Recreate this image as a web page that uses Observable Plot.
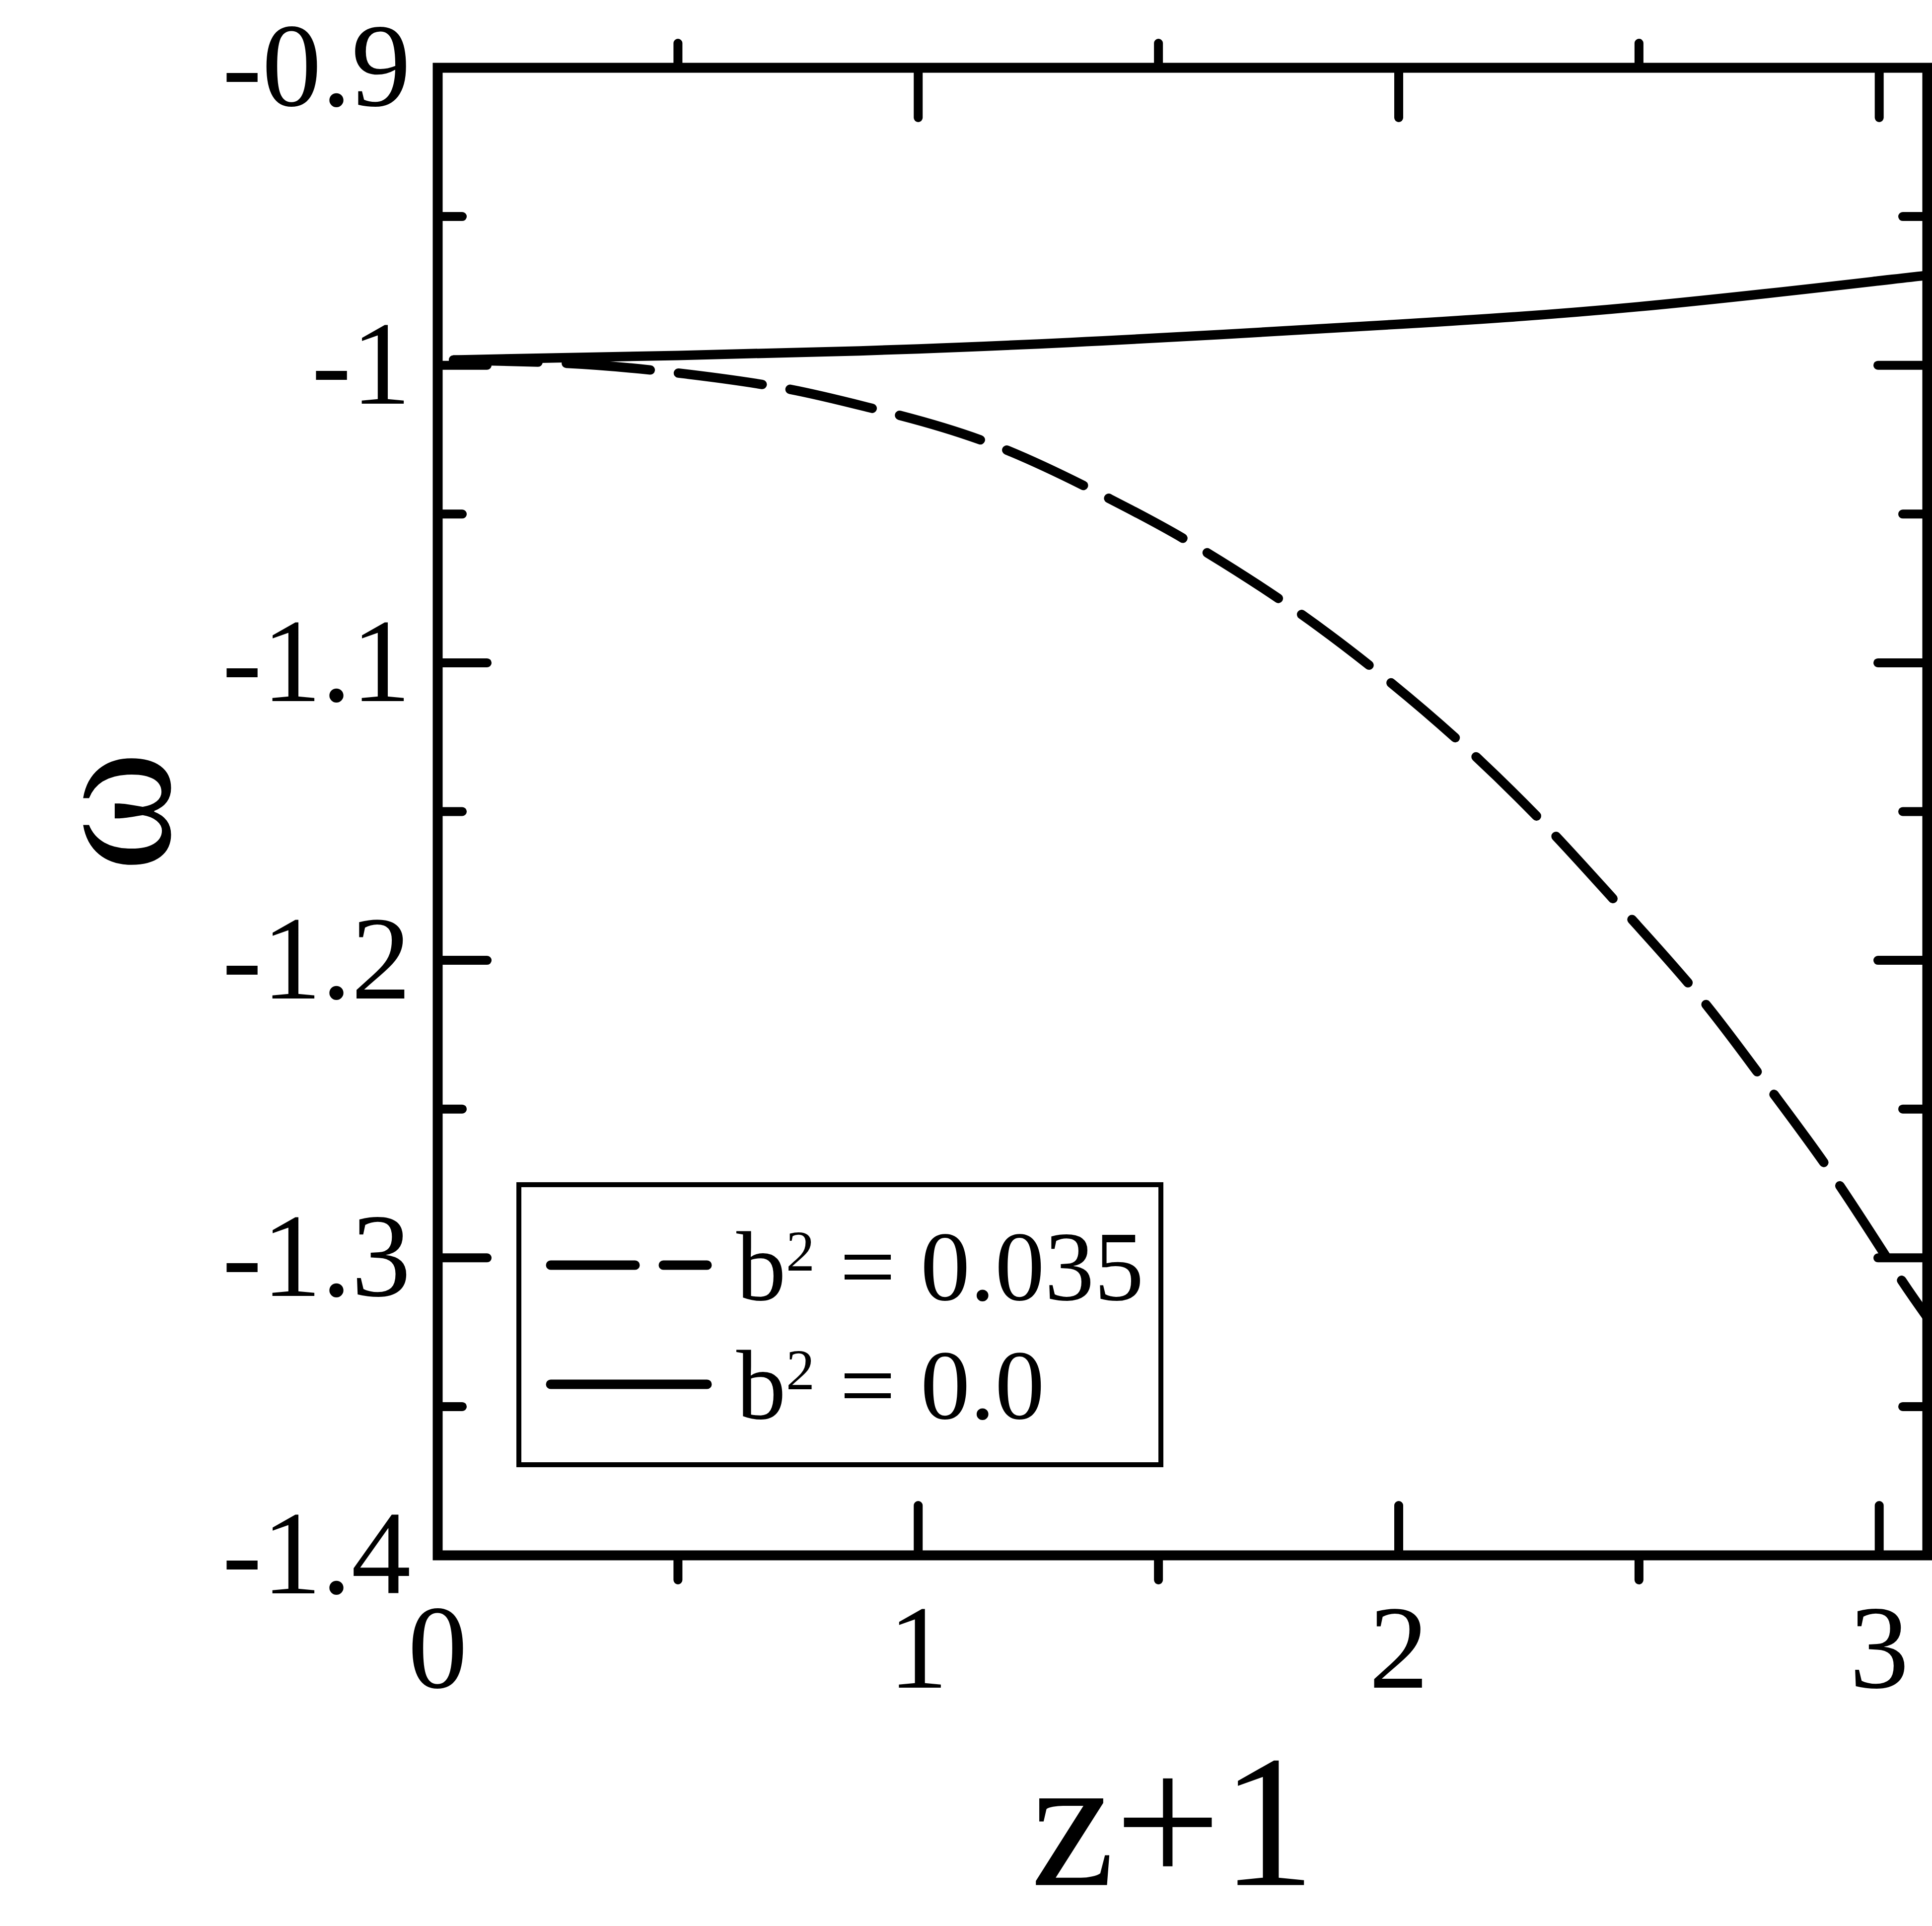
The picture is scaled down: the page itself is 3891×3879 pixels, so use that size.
<!DOCTYPE html>
<html>
<head>
<meta charset="utf-8">
<script src="https://cdn.jsdelivr.net/npm/d3@7"></script>
<script src="https://cdn.jsdelivr.net/npm/@observablehq/plot@0.6"></script>
<style>
  html, body { margin: 0; padding: 0; background: #fff; }
  #chart svg { display: block; }
</style>
</head>
<body>
<div id="chart"></div>
<script>
// ---- data ----
const seriesLabels = ["b² = 0.035", "b² = 0.0"];
const seriesDash = ["170,57", null];

const zDashed = [0.033, 0.25, 0.45, 0.7, 0.9, 1.15, 1.4, 1.56, 1.76, 1.95, 2.13, 2.3, 2.45, 2.62, 2.76, 2.9, 3.03, 3.1];
const wDashed = [-0.9982, -0.9992, -1.0017, -1.0071, -1.0143, -1.0263, -1.0450, -1.0590, -1.0795, -1.1023, -1.1270, -1.1537, -1.1800, -1.2110, -1.2405, -1.2715, -1.3035, -1.3200];

const zSolid = [0.033, 0.5, 1.0, 1.5, 2.0, 2.5, 3.0, 3.1];
const wSolid = [-0.9982, -0.9967, -0.9945, -0.9908, -0.9862, -0.9803, -0.9716, -0.9698];

const xTickValues = [0, 1, 2, 3];
const xTickLabels = ["0", "1", "2", "3"];
const xMajorTicks = [1, 2, 3];
const xMinorTicks = [0.5, 1.5, 2.5];
const yTickValues = [-0.9, -1, -1.1, -1.2, -1.3, -1.4];
const yTickLabels = ["-0.9", "-1", "-1.1", "-1.2", "-1.3", "-1.4"];
const yMajorTicks = [-1, -1.1, -1.2, -1.3];
const yMinorTicks = [-0.95, -1.05, -1.15, -1.25, -1.35];
const xTitle = "z+1";
const yTitle = "ω";

// ---- build ----
const FONT = "'Liberation Serif', 'Times New Roman', Times, serif";
const series = [
  zDashed.map((z, i) => ({z, w: wDashed[i]})),
  zSolid.map((z, i) => ({z, w: wSolid[i]}))
];

const LW = 19;     // curve width
const FW = 20;     // frame width
const TW = 18;     // tick width
const common = {stroke: "#000", strokeWidth: TW, strokeLinecap: "round", fill: "none", label: null};

const plot = Plot.plot({
  width: 3891,
  height: 3879,
  marginLeft: 881,
  marginRight: 10,
  marginTop: 136,
  marginBottom: 747,
  style: {fontFamily: FONT, background: "#fff", color: "#000", overflow: "visible"},
  x: {domain: [0, 3.1], label: null},
  y: {domain: [-1.4, -0.9], label: null},
  marks: [
    // tick marks
    Plot.axisX(xMajorTicks, {...common, anchor: "bottom", tickSize: -100}),
    Plot.axisX(xMinorTicks, {...common, anchor: "bottom", tickSize: 50}),
    Plot.axisX(xMajorTicks, {...common, anchor: "top", tickSize: -100}),
    Plot.axisX(xMinorTicks, {...common, anchor: "top", tickSize: 50}),
    Plot.axisY(yMajorTicks, {...common, anchor: "left", tickSize: -100}),
    Plot.axisY(yMinorTicks, {...common, anchor: "left", tickSize: -50}),
    Plot.axisY(yMajorTicks, {...common, anchor: "right", tickSize: -100}),
    Plot.axisY(yMinorTicks, {...common, anchor: "right", tickSize: -50}),
    // tick labels
    Plot.axisX(xTickValues, {
      anchor: "bottom", tickSize: 0, tickPadding: 96, fontSize: 240, label: null,
      tickFormat: d => xTickLabels[xTickValues.indexOf(d)]
    }),
    Plot.axisY(yTickValues, {
      anchor: "left", tickSize: 0, tickPadding: 54, fontSize: 240, label: null,
      tickFormat: d => yTickLabels[yTickValues.indexOf(d)]
    }),
    // curves
    ...series.map((s, i) => Plot.line(s, {
      x: "z", y: "w", stroke: "#000", strokeWidth: LW,
      strokeDasharray: seriesDash[i] ?? undefined,
      strokeLinecap: "round", strokeLinejoin: "round",
      curve: "natural"
    })),
    Plot.frame({stroke: "#000", strokeWidth: FW}),
    // axis titles
    Plot.text([xTitle], {
      text: d => d, frameAnchor: "bottom", lineAnchor: "bottom", textAnchor: "middle",
      dx: -19, dy: 664, fontSize: 380, fill: "#000"
    }),
    Plot.text([yTitle], {
      text: d => d, frameAnchor: "left", rotate: -90, textAnchor: "middle", lineAnchor: "middle",
      dx: -659, fontSize: 370, fill: "#000"
    })
  ]
});

// ---- legend (inside the plot area) ----
const legend = {x: 1045, y: 2386, w: 1293, h: 564, lineX1: 1109, lineX2: 1424, textX: 1483,
                rowLineY: [2548, 2788], rowBaseY: [2618, 2857], fontSize: 200,
                supSize: 116, supShift: 59};
const g = d3.select(plot).append("g")
  .attr("font-family", FONT).attr("text-anchor", "start");
g.append("rect")
  .attr("x", legend.x).attr("y", legend.y)
  .attr("width", legend.w).attr("height", legend.h)
  .attr("fill", "#fff").attr("stroke", "#000").attr("stroke-width", 10);
seriesLabels.forEach((lab, i) => {
  const ln = g.append("line")
    .attr("x1", legend.lineX1).attr("x2", legend.lineX2)
    .attr("y1", legend.rowLineY[i]).attr("y2", legend.rowLineY[i])
    .attr("stroke", "#000").attr("stroke-width", LW).attr("stroke-linecap", "round");
  if (seriesDash[i]) ln.attr("stroke-dasharray", seriesDash[i]);
  // split "b² = …" into base, raised "2", and the rest
  const [base, rest] = lab.split("²");
  const t = g.append("text")
    .attr("x", legend.textX).attr("y", legend.rowBaseY[i])
    .attr("text-anchor", "start")
    .attr("font-size", legend.fontSize).attr("fill", "#000")
    .style("white-space", "pre");
  t.append("tspan").text(base);
  t.append("tspan").attr("font-size", legend.supSize).attr("dy", -legend.supShift).text("2");
  t.append("tspan").attr("dy", legend.supShift).text(rest);
});

document.getElementById("chart").appendChild(plot);
</script>
</body>
</html>
